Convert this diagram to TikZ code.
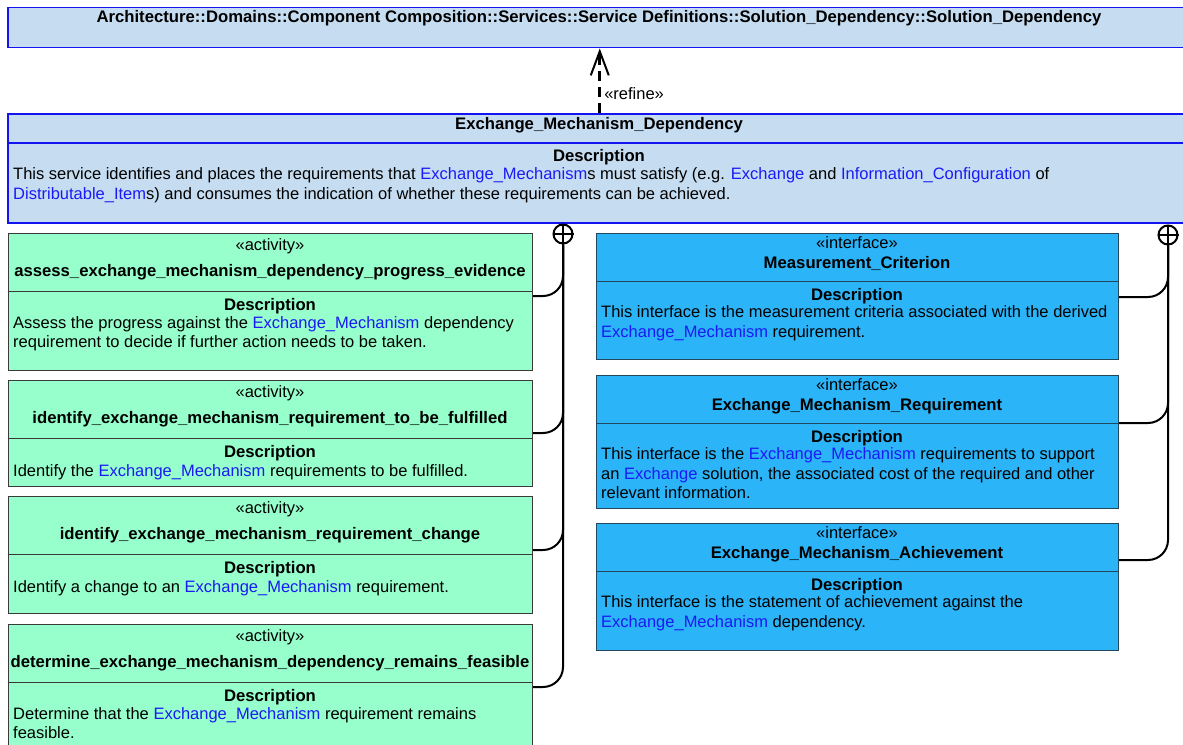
\documentclass[tikz,border=0pt]{standalone}
\usepackage{fontspec}
\setmainfont{Liberation Sans}
\usetikzlibrary{arrows.meta,positioning}

\definecolor{pkgfill}{HTML}{C6DDF1}
\definecolor{pkgline}{HTML}{1414F0}
\definecolor{actfill}{HTML}{96FFCC}
\definecolor{actline}{HTML}{3A3A3A}
\definecolor{ifcfill}{HTML}{2BB4F8}
\definecolor{ifcline}{HTML}{23485E}
\definecolor{linkblue}{HTML}{1A1AF5}

\newcommand{\elem}[1]{\textcolor{linkblue}{#1}}
\newcommand{\umlfont}{\fontsize{16.5bp}{19.7bp}\selectfont}
\newcommand{\umlbold}{\fontsize{16.7bp}{19.7bp}\selectfont\bfseries}

\begin{document}
\begin{tikzpicture}[x=1bp,y=-1bp]
  \tikzset{
    svcbox/.style={draw=pkgline,line width=1.5bp,fill=pkgfill,anchor=north west,inner sep=0,minimum width=1184bp},
    actbox/.style={draw=actline,line width=1.2bp,fill=actfill,anchor=north west,inner sep=0,minimum width=524bp},
    ifcbox/.style={draw=ifcline,line width=1.2bp,fill=ifcfill,anchor=north west,inner sep=0,minimum width=522bp},
    stereo/.style={anchor=base,inner sep=0,font=\umlfont},
    nametext/.style={anchor=base,inner sep=0,font=\umlbold},
    desctext/.style={anchor=north west,inner sep=0,align=left,font=\umlfont,execute at begin node=\strut},
    nestplus/.style={circle,draw,line width=2bp,minimum size=19bp,inner sep=0,fill=white},
    nest/.style={line width=2bp,rounded corners=20bp},
    refine/.style={dash pattern=on 10bp off 6bp,line width=3bp,-{Straight Barb[length=24bp,width=18bp,line width=2bp]}}
  }
  \useasboundingbox (0,0) rectangle (1183,745);

  % service and its parent
  \node[svcbox,minimum height=40bp] (arch) at (7,7) {};
  \node[nametext] (archname) at (599,23) {Architecture::Domains::Component Composition::Services::Service Definitions::Solution\_Dependency::Solution\_Dependency};

  \node[svcbox,minimum height=109bp] (emd) at (7,113) {};
  \node[nametext] (emdname) at (599,129) {Exchange\_Mechanism\_Dependency};
  \draw[pkgline,line width=1.5bp] (emd.west |- 0,143) -- (emd.east |- 0,143);
  \node[nametext] (emddeschead) at (599,161) {Description};
  \node[desctext] (emddesc) at (13,167.4) {This service identifies and places the requirements that \elem{Exchange\_Mechanism}s must satisfy (e.g. \elem{Exchange} and \elem{Information\_Configuration} of\\\elem{Distributable\_Item}s) and consumes the indication of whether these requirements can be achieved.};

  \draw[refine] (emd.north) -- (arch.south) node[pos=0.3,anchor=west,inner sep=0,xshift=3bp,font=\umlfont] (reflbl) {«refine»};

  % activities
  \node[actbox,minimum height=137bp] (a1) at (8,233) {};
  \node[stereo] (a1st) at (270,250.5) {«activity»};
  \node[nametext] (a1name) at (270,276) {assess\_exchange\_mechanism\_dependency\_progress\_evidence};
  \draw[actline,line width=1.2bp] (a1.west |- 0,291.5) -- (a1.east |- 0,291.5);
  \node[nametext] (a1head) at (270,310) {Description};
  \node[desctext] (a1desc) at (13,315.9) {Assess the progress against the \elem{Exchange\_Mechanism} dependency\\requirement to decide if further action needs to be taken.};

  \node[actbox,minimum height=106bp] (a2) at (8,380) {};
  \node[stereo] (a2st) at (270,397.5) {«activity»};
  \node[nametext] (a2name) at (270,423) {identify\_exchange\_mechanism\_requirement\_to\_be\_fulfilled};
  \draw[actline,line width=1.2bp] (a2.west |- 0,438.5) -- (a2.east |- 0,438.5);
  \node[nametext] (a2head) at (270,457) {Description};
  \node[desctext] (a2desc) at (13,462.9) {Identify the \elem{Exchange\_Mechanism} requirements to be fulfilled.};

  \node[actbox,minimum height=117bp] (a3) at (8,496) {};
  \node[stereo] (a3st) at (270,513.5) {«activity»};
  \node[nametext] (a3name) at (270,539) {identify\_exchange\_mechanism\_requirement\_change};
  \draw[actline,line width=1.2bp] (a3.west |- 0,554.5) -- (a3.east |- 0,554.5);
  \node[nametext] (a3head) at (270,573) {Description};
  \node[desctext] (a3desc) at (13,578.9) {Identify a change to an \elem{Exchange\_Mechanism} requirement.};

  \node[actbox,minimum height=136bp] (a4) at (8,624) {};
  \node[stereo] (a4st) at (270,641.5) {«activity»};
  \node[nametext] (a4name) at (270,667) {determine\_exchange\_mechanism\_dependency\_remains\_feasible};
  \draw[actline,line width=1.2bp] (a4.west |- 0,682.5) -- (a4.east |- 0,682.5);
  \node[nametext] (a4head) at (270,701) {Description};
  \node[desctext] (a4desc) at (13,706.9) {Determine that the \elem{Exchange\_Mechanism} requirement remains\\feasible.};

  % interfaces
  \node[ifcbox,minimum height=126bp] (i1) at (596,233) {};
  \node[stereo] (i1st) at (857,248.5) {«interface»};
  \node[nametext] (i1name) at (857,268) {Measurement\_Criterion};
  \draw[ifcline,line width=1.2bp] (i1.west |- 0,281.5) -- (i1.east |- 0,281.5);
  \node[nametext] (i1head) at (857,300) {Description};
  \node[desctext] (i1desc) at (601,305.4) {This interface is the measurement criteria associated with the derived\\\elem{Exchange\_Mechanism} requirement.};

  \node[ifcbox,minimum height=133bp] (i2) at (596,375) {};
  \node[stereo] (i2st) at (857,390.5) {«interface»};
  \node[nametext] (i2name) at (857,410) {Exchange\_Mechanism\_Requirement};
  \draw[ifcline,line width=1.2bp] (i2.west |- 0,423.5) -- (i2.east |- 0,423.5);
  \node[nametext] (i2head) at (857,442) {Description};
  \node[desctext] (i2desc) at (601,447.4) {This interface is the \elem{Exchange\_Mechanism} requirements to support\\an \elem{Exchange} solution, the associated cost of the required and other\\relevant information.};

  \node[ifcbox,minimum height=127bp] (i3) at (596,523) {};
  \node[stereo] (i3st) at (857,538.5) {«interface»};
  \node[nametext] (i3name) at (857,558) {Exchange\_Mechanism\_Achievement};
  \draw[ifcline,line width=1.2bp] (i3.west |- 0,571.5) -- (i3.east |- 0,571.5);
  \node[nametext] (i3head) at (857,590) {Description};
  \node[desctext] (i3desc) at (601,595.4) {This interface is the statement of achievement against the\\\elem{Exchange\_Mechanism} dependency.};

  % nesting of owned elements
  \node[nestplus] (lplus) at (563,234) {};
  \draw[line width=2bp] (lplus.north) -- (lplus.south) (lplus.west) -- (lplus.east);
  \draw[nest] (a1.east |- 0,296) -| (lplus);
  \draw[nest] (a2.east |- 0,433) -| (lplus);
  \draw[nest] (a3.east |- 0,550) -| (lplus);
  \draw[nest] (a4.east |- 0,687) -| (lplus);

  \node[nestplus] (rplus) at (1168,235) {};
  \draw[line width=2bp] (rplus.north) -- (rplus.south) (rplus.west) -- (rplus.east);
  \draw[nest] (i1.east |- 0,297) -| (rplus);
  \draw[nest] (i2.east |- 0,423) -| (rplus);
  \draw[nest] (i3.east |- 0,560) -| (rplus);
\end{tikzpicture}
\end{document}
